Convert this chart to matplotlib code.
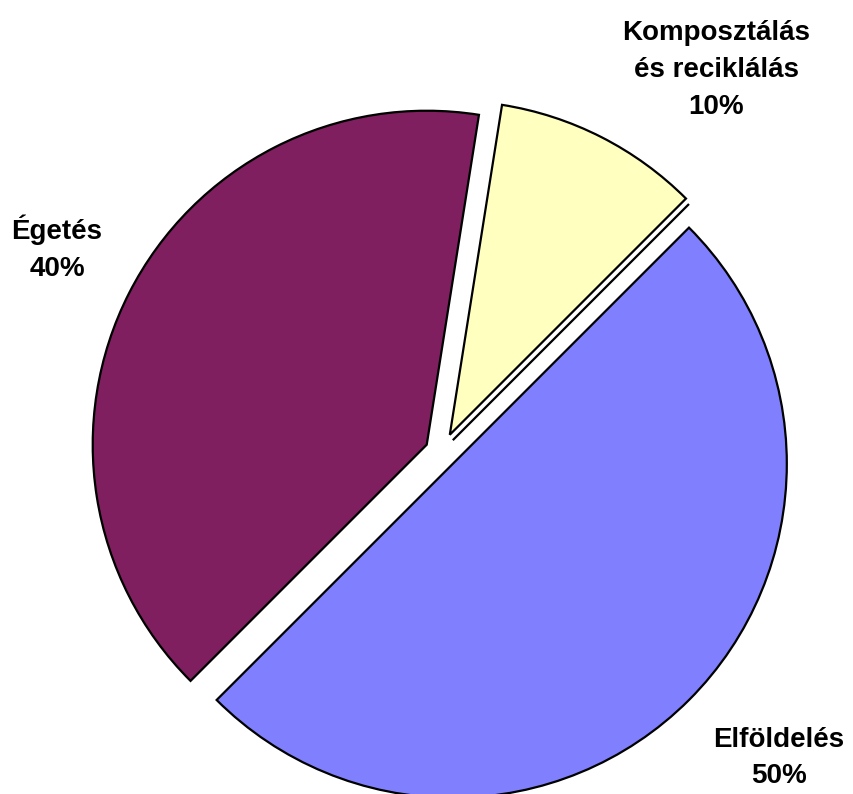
import matplotlib.pyplot as plt

plt.rcParams['font.family'] = ['Liberation Sans', 'DejaVu Sans']

# share of waste treatment methods (%)
labels = ["Elföldelés", "Egyéb", "Komposztálás\nés reciklálás", "Égetés"]
values = [50, 0, 10, 40]
colors = ["#8080FF", "#FFFFFF", "#FFFFC0", "#7F1F5F"]
explode = [0.05, 0.05, 0.058, 0.048]

W, H = 854, 794
cx, cy, R = 441, 452, 334  # pie centre and radius in pixels

fig = plt.figure(figsize=(W / 100, H / 100), dpi=100)
ax = fig.add_axes([0, 0, 1, 1])

wedges, _ = ax.pie(values, colors=colors, explode=explode, startangle=-135,
                   counterclock=True, radius=1.0,
                   wedgeprops=dict(edgecolor="black", linewidth=1.6))

ax.set_xlim(-cx / R, (W - cx) / R)
ax.set_ylim(-(H - cy) / R, cy / R)
ax.set_aspect("auto")
ax.axis("off")

# label positions in pixels (x, y from top)
label_pos = {
    0: (779, 758),
    2: (716, 70),
    3: (57, 248),
}
for i, (px, py) in label_pos.items():
    txt = f"{labels[i]}\n{values[i]}%"
    ax.text((px - cx) / R, (cy - py) / R, txt, ha="center", va="center",
            fontsize=20, fontweight="bold", linespacing=1.53)

fig.savefig("out.png", dpi=100)
